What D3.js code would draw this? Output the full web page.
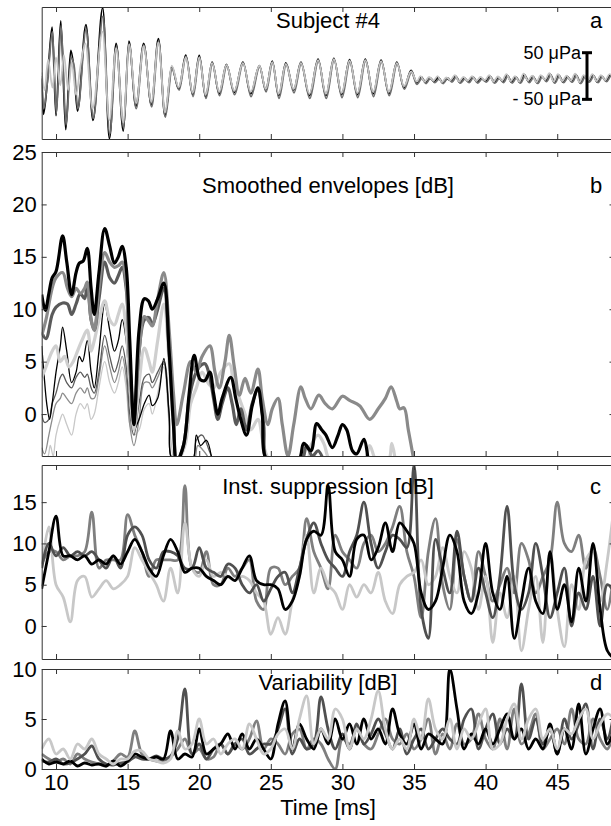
<!DOCTYPE html>
<html>
<head>
<meta charset="utf-8">
<script src="https://cdn.jsdelivr.net/npm/d3@7"></script>
<style>
  body { margin: 0; background: #fff; }
  text { font-family: "Liberation Sans", Arial, Helvetica, sans-serif; }
</style>
</head>
<body>
<svg id="chart"></svg>
<script>
// ---- data ----
const xTicks = [10, 15, 20, 25, 30, 35, 40, 45]

// panel a: waveform extrema [ms, uPa]
const waveBlack = [[9.0,-5],[9.12,-82],[9.4,-10],[9.73,105],[10.0,-85],[10.33,118],[10.68,-115],[11.03,55],[11.25,15],[11.5,-75],[12.09,110],[12.58,-95],[13.26,146],[13.73,-134],[14.2,70],[14.7,-118],[15.09,75],[15.58,-65],[16.12,70],[16.66,-62],[17.15,80],[17.61,-85],[18.08,20],[18.57,-28],[19.06,45],[19.55,-40],[20.0,44],[20.45,-45],[20.9,30],[21.4,-38],[21.9,25],[22.45,-35],[23.05,30],[23.6,-38],[24.2,22],[24.65,-30],[25.1,32],[25.55,-42],[26.05,28],[26.6,-30],[27.1,30],[27.7,-42],[28.3,36],[28.85,-42],[29.4,38],[29.95,-40],[30.5,35],[31.05,-40],[31.6,36],[32.15,-38],[32.7,34],[33.25,-38],[33.8,30],[34.3,-25],[34.8,12],[35.2,-15],[35.5,-2],[35.8,-14],[36.1,-5],[36.4,-12],[36.7,-3],[37.0,-15],[37.3,-6],[37.6,-10],[37.9,0],[38.2,-14],[38.5,-4],[38.8,-12],[39.1,-2],[39.4,-13],[39.7,-5],[40.0,-11],[40.3,0],[40.6,-14],[40.9,-3],[41.2,-12],[41.5,2],[41.8,-13],[42.1,-2],[42.4,-14],[42.7,3],[43.0,-12],[43.3,-1],[43.6,-15],[43.9,0],[44.2,-10],[44.5,4],[44.8,-14],[45.1,2],[45.4,-13],[45.7,-1],[46.0,-12],[46.3,3],[46.6,-15],[46.9,0],[47.2,-12],[47.5,2],[47.8,-13],[48.1,0],[48.4,-11],[48.7,2],[49.0,-8]]
const waveGray = [[9.0,0],[9.14,-70],[9.42,-5],[9.75,95],[10.02,-80],[10.35,108],[10.7,-105],[11.05,40],[11.27,20],[11.52,-70],[12.1,100],[12.6,-90],[13.28,128],[13.75,-125],[14.22,62],[14.72,-110],[15.1,68],[15.6,-70],[16.13,66],[16.68,-66],[17.16,74],[17.63,-88],[18.1,15],[18.6,-30],[19.08,42],[19.57,-44],[20.02,40],[20.47,-48],[20.92,26],[21.42,-42],[21.92,22],[22.47,-40],[23.07,27],[23.62,-44],[24.22,20],[24.67,-34],[25.12,28],[25.57,-48],[26.07,24],[26.62,-36],[27.12,26],[27.72,-48],[28.32,32],[28.87,-48],[29.42,34],[29.97,-46],[30.52,30],[31.07,-46],[31.62,32],[32.17,-44],[32.72,30],[33.27,-42],[33.82,26],[34.32,-28],[34.82,8],[35.2,-18],[35.55,-5],[35.85,-16],[36.15,-4],[36.45,-14],[36.75,-6],[37.05,-16],[37.35,-4],[37.65,-13],[37.95,-2],[38.25,-15],[38.55,-6],[38.85,-14],[39.15,-3],[39.45,-15],[39.75,-6],[40.05,-13],[40.35,-2],[40.65,-15],[40.95,-5],[41.25,-14],[41.55,0],[41.85,-15],[42.15,-4],[42.45,-15],[42.75,0],[43.05,-14],[43.35,-3],[43.65,-16],[43.95,-2],[44.25,-12],[44.55,2],[44.85,-15],[45.15,0],[45.45,-14],[45.75,-3],[46.05,-13],[46.35,1],[46.65,-16],[46.95,-2],[47.25,-13],[47.55,0],[47.85,-14],[48.15,-2],[48.45,-12],[48.75,0],[49.0,-10]]
const waveLight = [[9.0,8],[9.2,-30],[9.45,35],[9.75,-25],[10.0,40],[10.3,-20],[10.55,45],[10.85,-30],[11.1,30],[11.4,-40],[11.7,20],[12.05,70],[12.55,-70],[13.25,95],[13.72,-95],[14.2,60],[14.7,-100],[15.1,68],[15.6,-58],[16.12,64],[16.66,-55],[17.15,72],[17.61,-78],[18.08,22],[18.57,-24],[19.06,40],[19.55,-36],[20.0,40],[20.45,-40],[20.9,28],[21.4,-34],[21.9,24],[22.45,-32],[23.05,28],[23.6,-34],[24.2,22],[24.65,-28],[25.1,30],[25.55,-38],[26.05,26],[26.6,-28],[27.1,28],[27.7,-38],[28.3,34],[28.85,-38],[29.4,36],[29.95,-36],[30.5,33],[31.05,-36],[31.6,34],[32.15,-34],[32.7,32],[33.25,-34],[33.8,28],[34.3,-22],[34.8,10],[35.2,-12],[35.45,0],[35.75,-12],[36.05,-2],[36.35,-10],[36.65,0],[36.95,-13],[37.25,-3],[37.55,-9],[37.85,2],[38.15,-12],[38.45,-2],[38.75,-10],[39.05,0],[39.35,-11],[39.65,-2],[39.95,-9],[40.25,2],[40.55,-12],[40.85,-1],[41.15,-10],[41.45,4],[41.75,-11],[42.05,0],[42.35,-12],[42.65,5],[42.95,-10],[43.25,1],[43.55,-13],[43.85,2],[44.15,-8],[44.45,6],[44.75,-12],[45.05,4],[45.35,-11],[45.65,1],[45.95,-10],[46.25,5],[46.55,-13],[46.85,2],[47.15,-10],[47.45,4],[47.75,-11],[48.05,2],[48.35,-9],[48.65,4],[49.0,-6]]

// panel b: smoothed envelopes [ms, dB]
const envBlack = [[9,11.4],[9.25,9.9],[9.5,11.5],[9.73,13],[10,13.6],[10.46,17],[10.75,14.5],[11.09,11.4],[11.4,13.5],[11.63,14.4],[11.9,14.6],[12.18,15.8],[12.45,12],[12.67,9.5],[13.0,13.5],[13.4,17.7],[13.75,16],[14.08,14.4],[14.35,15],[14.62,16],[14.9,14],[15.15,7],[15.44,-1],[15.8,8],[16.17,11],[16.45,10.8],[16.72,10],[17.1,11],[17.53,12.5],[17.9,6],[18.2,-1],[18.43,-4.5],[18.9,-3],[19.3,2],[19.65,5.6],[20.06,3.3],[20.4,3.2],[20.74,4],[21.0,2],[21.3,0],[21.6,1.5],[22.2,3.5],[22.55,1.5],[22.9,-0.5],[23.3,-2],[23.7,0.8],[24.1,2.5],[24.4,0],[24.8,-4.5],[26.9,-4.5],[27.3,-2.8],[27.8,-3.5],[28.2,-0.9],[28.55,-1.5],[28.85,-2],[29.3,-3.2],[29.7,-2],[30.0,-1],[30.3,-1.5],[30.7,-3.5],[31.0,-3.8],[31.5,-2.4],[31.8,-4.5]]
const envTail = [[9,7.5],[9.3,9],[9.73,12],[10,13],[10.46,13.5],[10.8,12],[11.09,11.2],[11.4,12],[11.7,11.5],[12.0,12],[12.18,12.6],[12.45,9],[12.67,8],[13.0,12],[13.4,15.4],[13.75,14.5],[14.08,14],[14.4,14.2],[14.62,14.5],[14.9,12.5],[15.15,5],[15.44,0],[15.8,6],[16.17,9.3],[16.5,8.8],[16.72,8.4],[17.1,11],[17.53,13.5],[17.9,8],[18.2,2],[18.43,-1],[18.9,2],[19.4,5],[19.8,4],[20.2,5.5],[20.74,6.5],[21.1,4],[21.4,2.5],[21.8,5],[22.1,7.5],[22.45,4.5],[22.8,1.8],[23.2,3.4],[23.6,2],[24.1,4.3],[24.4,1.5],[24.8,-1],[25.1,0.5],[25.5,1.5],[25.8,-1],[26.2,-4],[26.6,-1],[27.1,2.6],[27.4,1.5],[27.8,0.5],[28.35,1.8],[28.8,1],[29.3,0.5],[30.0,1.7],[30.5,1.3],[31.2,0.8],[31.9,-0.5],[32.5,0.5],[33.0,1.5],[33.4,2.6],[33.8,1.2],[34.0,0.5],[34.3,0.6],[34.6,-1.5],[35.0,-4.5]]
const envDark = [[9,7.8],[9.3,7.2],[9.73,9.5],[10,10.2],[10.46,10.6],[10.8,10.5],[11.09,9.5],[11.4,10.5],[11.7,11.5],[12.0,11],[12.18,12.5],[12.45,9],[12.67,8],[13.0,11],[13.4,14.5],[13.75,13],[14.08,12.5],[14.35,13.2],[14.62,14],[14.9,12],[15.15,5],[15.44,-0.5],[15.8,6],[16.17,9],[16.5,9.2],[16.72,8.5],[17.1,10],[17.53,12],[17.9,6],[18.2,0],[18.43,-4.5],[18.9,-3],[19.3,1.5],[19.65,3.5],[20.0,4.5],[20.4,4.8],[20.74,3.5],[21.0,1.5],[21.3,-0.5],[21.6,1],[22.0,2.5],[22.3,1],[22.6,-1],[22.9,0.5],[23.3,-1.5],[23.7,1],[24.1,2.3],[24.5,-1],[24.8,-4.5],[27.1,-4.5],[27.5,-3],[27.9,-4],[28.3,-3.5],[28.7,-4.5]]
const envLight = [[9,3.5],[9.3,4.5],[9.73,6],[10,6.5],[10.3,5],[10.6,5.5],[10.9,4.5],[11.2,5],[11.5,6],[11.8,7],[12.18,8],[12.45,6],[12.67,7],[13.0,9],[13.4,10.8],[13.75,9],[14.08,8.5],[14.35,9.5],[14.62,10.5],[14.9,8],[15.15,3],[15.44,-1.5],[15.8,3],[16.17,6.3],[16.5,5],[16.72,4],[17.1,7],[17.53,10.5],[17.9,5],[18.2,-1],[18.43,-4.5],[19.0,-3],[19.4,1],[19.8,2.5],[20.2,4],[20.6,3],[21.0,2.5],[21.5,4],[22.1,4.8],[22.4,3],[22.8,1.5],[23.2,0],[23.6,-1.5],[24.1,-0.5],[24.5,-3],[25.0,-4.5],[27.5,-4.5],[27.8,-3],[28.3,-2],[28.7,-2.8],[29.2,-4.5],[31.5,-4.5],[31.9,-3],[32.4,-4.5],[33.2,-4.5],[33.45,-2.8],[33.7,-4.5]]
const envBlackThin = [[9,6.5],[9.15,4],[9.35,1],[9.55,-0.5],[9.73,1],[10.0,4],[10.3,6.5],[10.46,8.3],[10.75,6],[11.09,3],[11.4,4],[11.63,5.5],[11.85,5],[12.18,7],[12.45,4],[12.67,2.5],[13.0,6],[13.4,10.5],[13.75,8],[14.08,6],[14.35,7],[14.62,9],[14.9,7],[15.15,2],[15.44,-1.5],[15.8,-0.5],[16.17,1],[16.5,1.8],[16.72,0.8],[17.1,1.5],[17.53,5.3],[17.9,0],[18.2,-4.5],[19.5,-4.5],[19.8,-2],[20.1,-3],[20.5,-2.5],[20.9,-4.5]]
const envDarkThin = [[9,0],[9.2,-0.8],[9.5,-0.5],[9.73,1],[10,2],[10.3,3.5],[10.46,3.8],[10.75,3],[11.09,2.5],[11.4,3.5],[11.7,4],[12.0,3.5],[12.18,3.8],[12.45,2.5],[12.67,2],[13.0,4],[13.4,7.5],[13.75,5.5],[14.08,4],[14.35,5],[14.62,6.5],[14.9,4.5],[15.15,0],[15.44,-2],[15.8,1],[16.17,3.5],[16.5,3.8],[16.72,3],[17.1,4],[17.53,5],[17.9,0],[18.2,-4.5],[19.5,-4.5],[19.8,-2.5],[20.2,-2],[20.7,-3.5],[21.0,-4.5]]
const envGrayThin = [[9,-3.2],[9.2,-3.8],[9.5,-2],[9.73,-0.5],[10,1],[10.3,1.5],[10.46,2],[10.75,1.5],[11.09,1],[11.4,2],[11.7,2.5],[12.0,2],[12.18,2.5],[12.45,1.5],[12.67,1.5],[13.0,3.5],[13.4,6.5],[13.75,4.5],[14.08,3],[14.35,4],[14.62,5.5],[14.9,3.5],[15.15,-1],[15.44,-3],[15.8,-0.5],[16.17,3],[16.5,3],[16.72,2.5],[17.1,3.5],[17.53,4.8],[17.9,-0.5],[18.2,-4.5],[19.6,-4.5],[19.9,-3],[20.3,-3.5],[20.8,-4.5]]
const envLightThin = [[9,-4.5],[9.4,-4.2],[9.6,-3],[9.8,-4],[10,-2],[10.3,-0.5],[10.46,0],[10.75,-1],[11.09,-2],[11.4,0],[11.7,1],[12.0,0.5],[12.18,1],[12.45,-0.5],[12.67,0],[13.0,2.5],[13.4,5],[13.75,3],[14.08,2],[14.35,3],[14.62,4.5],[14.9,2.5],[15.15,-1],[15.44,-2],[15.8,-1.5],[16.17,0.5],[16.5,1],[16.72,0],[17.1,2],[17.53,4.5],[17.9,-1],[18.2,-4.5]]

// panels c and d: values every 0.5 ms from 9 ms
const t0 = 9, dt = 0.5
const suppBlack = [4.5,9,13.3,8.5,8.5,8,8.5,7.5,8,7.5,8.5,7.5,9,10.5,9,7,6,8.5,10.5,9,6.5,7,7,6,5.5,5,6,5.5,7,8.5,5.5,5,5,4.5,2,3,6,10.5,11.5,11,17,9,8,6,10.5,11,8,9.5,12.5,9,12.5,11.5,10,4,2,3,7,11,9,3,1.5,4,10,4,2,6,-1.5,3,7,3,1.5,9,2,5,0.5,7,3,10,2,-3,-4]
const suppDark = [7,10,8.5,9.5,8.5,9,8.5,9,8,7,8.5,7,11,12,11,8,7,9,9,8.5,7,7,9.5,7,6.5,6,7.5,7,5,4,5,3,4.5,6,6.5,4,7,10.5,12.5,10,8,7,6,9,11,15,10,7,9,11,10.5,9.5,19.5,2,-1.5,10.5,7,4,11.5,6,3,7,4,1,6,14.5,5,2,4,10,6,1,4,7,0,4,2,6,0,5,4]
const suppGray = [7.5,9,9,8,8.5,8.5,9,13.8,7,8,8,8,13.5,11,9,6,8,8,8,8,17,7,6.5,9,5,5,7,6,7,8,3,2,7,7,5,6,7,13,9,7,4.5,11,9,8,7,10,11,9,10,12,14.5,9,6,1,9,13,5,2,10.5,6,3,9,6,3,5,7,4,10,8,4,6,8,15,10,9,11,7,9.5,6,2,7]
const suppLight = [7,12,5,3.5,0.5,5.5,6,3.5,4.5,5.5,4.5,5,6,9.5,8,6.5,5,3,7,4,12.5,7,6,8,6,6.5,6,5.5,6,5.5,4,3,-1,1,-1,3,6,11,4,7,5,4,2,5,3.5,5,4,6.5,3,1.5,5,6,6.5,8,5,6,9.5,6,4,9,7,2,6,-2,4,1,6,-3,2,6,-2,9,2,-2.5,5,2,8,9,3,8,15]
const varBlack = [1,0.5,0.7,0.5,0.8,0.3,0.6,0.4,0.5,0.3,0.8,0.3,0.8,1.5,1.2,1,1.2,1,3.8,1,1.5,1.2,4,1.5,2,2.5,3.5,2,3.5,2,3,2,1,4.5,6.8,2,4.5,3,2,4,2.5,5,3,4.5,2.5,5,3,4,2.5,6,3.5,2.5,4.5,2,3.5,3,2.5,10,6,2,3.5,2.5,4,2.5,4,5.5,3,4,2,3,2,4.5,1.5,4,2,6.5,1.5,4,6,2.5,4]
const varDark = [0.8,0.7,1,0.5,0.6,1,1.5,2.3,1,0.5,0.4,0.6,0.7,1.2,1,1,1.3,1,1.3,3,8,1.5,2.5,1,2,2.5,1.5,2.5,3,1.5,2,2.5,2.5,4,6,1.5,3,2,2.5,7.2,4,2,3.5,2,4.5,2.5,3.5,5,3.5,2,4,1.5,3,4,2,3,4,3,2.5,5,6,2,4,5.5,2.5,4,3,8.5,3,5,2.5,4,1.5,5,3,4.5,6.5,2,5,3,6]
const varGray = [1.5,1,0.7,1,0.5,1.5,1,0.7,0.5,0.3,0.8,1.5,1.2,3.8,1.5,1,0.8,0.8,1.2,2,3,1.5,2,1,1.2,2.5,1.5,2.5,2,3,4.8,2,3,2.5,1.5,3.5,4,2,3,2.5,1,0,3,2.5,4,2.5,2,3.5,5,3,2.5,3.5,2,3,5,1.5,3.5,2,4.5,2.5,3,5.5,3,2,5,2,6,2.5,3.5,5.5,2,3,4,2.5,6,3,2.5,5,3,2,4]
const varLight = [2,3,1.5,2,1,2.5,2,3,1.5,1,0.5,1,1,1.8,1.8,1,0.8,0.6,1,3.8,2,2.5,5,2.5,3,1.5,2.5,3,2,4.5,3,1.5,2,3.5,4,2,5,7.3,2.5,4,3,6,5,2,4,3,5,7.8,4,2,3,2,5,3,7,4,3,5,2,4,3,4.5,6,2,2.5,5,6.5,3,5,6,3,4,2,4,3.5,5,6,3,4.5,5.5,5]

const panelNames = ['a', 'b', 'c', 'd']
const panelTitles = ['Subject #4', 'Smoothed envelopes [dB]', 'Inst. suppression [dB]', 'Variability [dB]']

// ---- layout ----
const width = 611, height = 826
const fontSize = 22
const svg = d3.select('#chart').attr('width', width).attr('height', height)
const x = d3.scaleLinear().domain([9, 49]).range([41.7, 614.5])

const panels = [
  { top: 7,   bottom: 139, domain: [-135, 148], yTicks: [],                   titleY: 28  },
  { top: 152, bottom: 456, domain: [-4, 25],    yTicks: [0, 5, 10, 15, 20, 25], titleY: 193 },
  { top: 465, bottom: 659, domain: [-4, 19.5],  yTicks: [0, 5, 10, 15],        titleY: 494 },
  { top: 669, bottom: 769, domain: [0, 10],     yTicks: [0, 5, 10],            titleY: 690 }
]
panels.forEach(p => { p.y = d3.scaleLinear().domain(p.domain).range([p.bottom, p.top]) })

const toPairs = vals => vals.map((v, i) => [t0 + i * dt, v])

// series per panel: [data, colour, width]
panels[0].series = [
  [waveBlack, '#000', 1.8],
  [waveGray, '#6e6e6e', 1.8],
  [waveLight, '#c4c4c4', 1.8]
]
panels[1].series = [
  [envLightThin, '#c8c8c8', 1.3],
  [envGrayThin, '#8c8c8c', 1.3],
  [envDarkThin, '#5a5a5a', 1.3],
  [envBlackThin, '#000', 1.3],
  [envLight, '#cfcfcf', 3.2],
  [envDark, '#5a5a5a', 3.2],
  [envTail, '#8a8a8a', 3.2],
  [envBlack, '#000', 3.2]
]
panels[2].series = [
  [toPairs(suppGray), '#7f7f7f', 2.8],
  [toPairs(suppLight), '#c8c8c8', 2.8],
  [toPairs(suppDark), '#505050', 2.8],
  [toPairs(suppBlack), '#000', 2.8]
]
panels[3].series = [
  [toPairs(varGray), '#7f7f7f', 2.8],
  [toPairs(varDark), '#505050', 2.8],
  [toPairs(varBlack), '#000', 2.8],
  [toPairs(varLight), '#c8c8c8', 2.8]
]

panels.forEach((p, i) => {
  const g = svg.append('g').attr('class', 'panel-' + panelNames[i])

  g.append('clipPath').attr('id', 'clip-' + i)
    .append('rect')
    .attr('x', x.range()[0]).attr('y', p.top)
    .attr('width', x.range()[1] - x.range()[0]).attr('height', p.bottom - p.top)

  const curve = i === 0 ? d3.curveMonotoneX : d3.curveCatmullRom.alpha(0.5)
  const line = d3.line()
    .x(d => x(d[0]))
    .y(d => p.y(d[1]))
    .curve(curve)

  g.append('g').attr('clip-path', `url(#clip-${i})`)
    .selectAll('path')
    .data(p.series)
    .enter()
    .append('path')
    .attr('d', d => line(d[0]))
    .attr('fill', 'none')
    .attr('stroke', d => d[1])
    .attr('stroke-width', d => d[2])
    .attr('stroke-linejoin', 'round')

  // box + inward ticks, matlab style
  const bottomAxis = d3.axisBottom(x).tickValues(xTicks).tickSizeInner(-5).tickSizeOuter(0)
    .tickPadding(5).tickFormat(i === 3 ? d3.format('d') : '')
  const topAxis = d3.axisTop(x).tickValues(xTicks).tickSizeInner(-5).tickSizeOuter(0).tickFormat('')
  const leftAxis = d3.axisLeft(p.y).tickValues(p.yTicks).tickSizeInner(-5).tickSizeOuter(0).tickPadding(5)
  const rightAxis = d3.axisRight(p.y).tickValues(p.yTicks).tickSizeInner(-5).tickSizeOuter(0).tickFormat('')

  g.append('g').attr('transform', `translate(0,${p.bottom})`).call(bottomAxis)
  g.append('g').attr('transform', `translate(0,${p.top})`).call(topAxis)
  g.append('g').attr('transform', `translate(${x.range()[0]},0)`).call(leftAxis)
  g.append('g').attr('transform', `translate(${x.range()[1]},0)`).call(rightAxis)

  g.selectAll('.domain').attr('stroke', '#333').attr('stroke-width', 1)
  g.selectAll('.tick line').attr('stroke', '#333')
  g.selectAll('.tick text').attr('font-size', fontSize).attr('fill', '#000')
    .attr('font-family', '"Liberation Sans", Arial, sans-serif')

  g.append('text')
    .attr('x', 328).attr('y', p.titleY)
    .attr('text-anchor', 'middle')
    .attr('font-size', fontSize)
    .text(panelTitles[i])

  g.append('text')
    .attr('x', 590).attr('y', p.titleY)
    .attr('font-size', fontSize)
    .text(panelNames[i])
})

// scale bar in panel a
const ya = panels[0].y
const barX = 587
const bar = svg.append('g').attr('stroke', '#000').attr('stroke-width', 3)
bar.append('line').attr('x1', barX).attr('x2', barX).attr('y1', ya(50)).attr('y2', ya(-50))
bar.append('line').attr('x1', barX - 5).attr('x2', barX + 5).attr('y1', ya(50)).attr('y2', ya(50))
bar.append('line').attr('x1', barX - 5).attr('x2', barX + 5).attr('y1', ya(-50)).attr('y2', ya(-50))

svg.append('text').attr('x', 581).attr('y', ya(50) + 6)
  .attr('text-anchor', 'end').attr('font-size', 18).text('50 μPa')
svg.append('text').attr('x', 581).attr('y', ya(-50) + 6)
  .attr('text-anchor', 'end').attr('font-size', 18).text('- 50  μPa')

svg.append('text')
  .attr('x', 328).attr('y', 815)
  .attr('text-anchor', 'middle')
  .attr('font-size', fontSize)
  .text('Time [ms]')
</script>
</body>
</html>
